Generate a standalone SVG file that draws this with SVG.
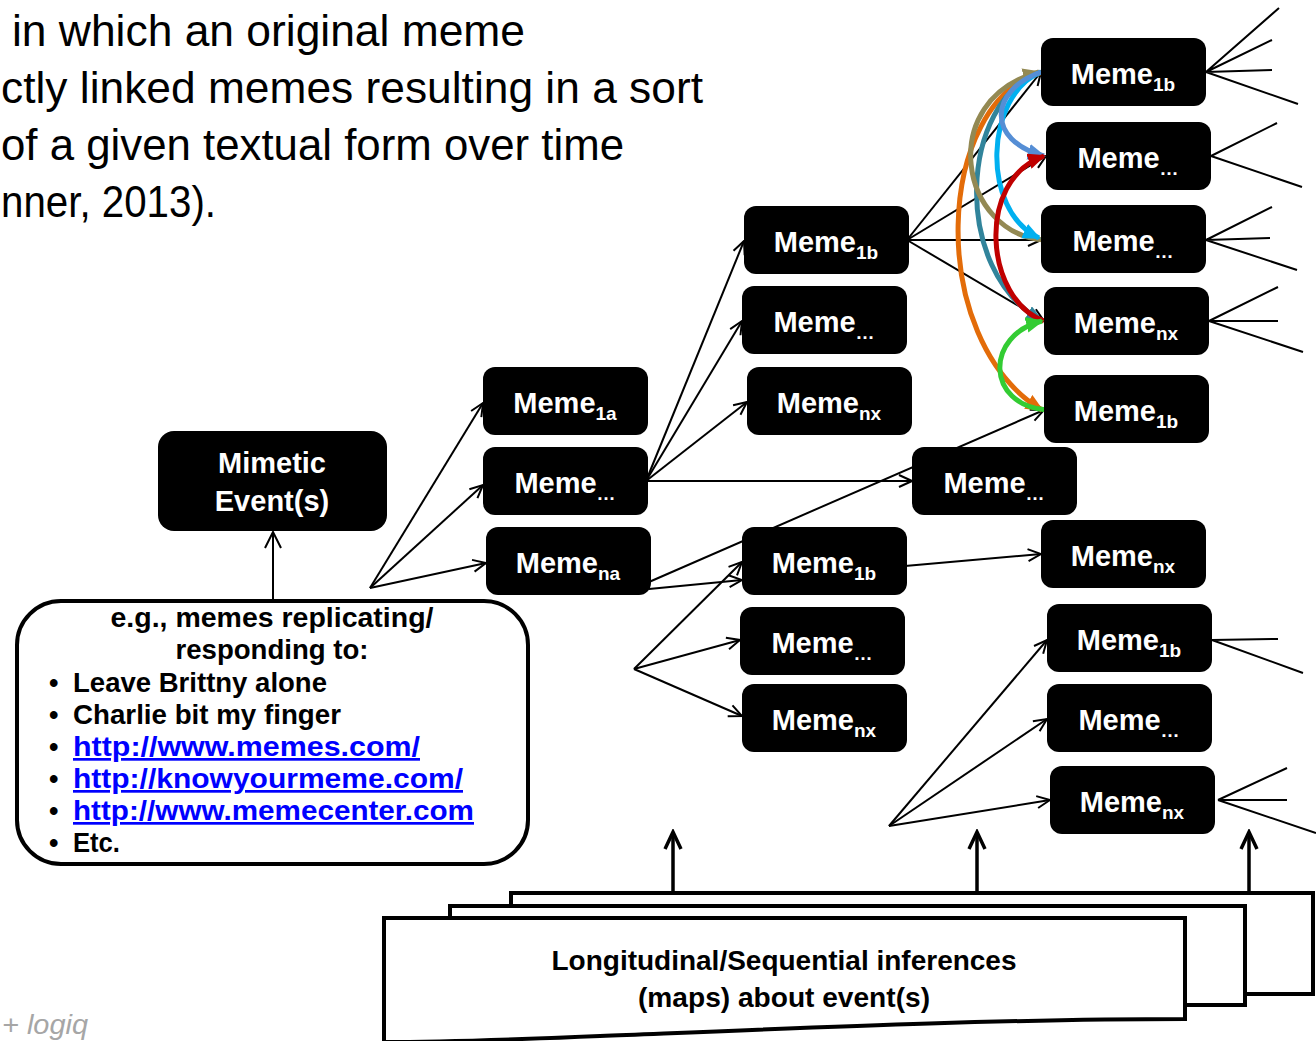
<svg xmlns="http://www.w3.org/2000/svg" width="1316" height="1041" viewBox="0 0 1316 1041">
<defs>
<style>
.ln{stroke:#000;stroke-width:2;fill:none}
.ar{marker-end:url(#ah)}
.nd{fill:#000}
.lb{font-family:"Liberation Sans",Arial,sans-serif;font-weight:bold;font-size:29px;fill:#fff;text-anchor:middle}
.sb{font-size:19px}
.para{font-family:"Liberation Sans",Arial,sans-serif;font-size:44px;fill:#000}
.bx{font-family:"Liberation Sans",Arial,sans-serif;font-weight:bold;font-size:27px;fill:#000}
.lk{fill:#0000ff;text-decoration:underline}
.cv{fill:none;stroke-width:5}
</style>
<marker id="ah" viewBox="0 0 16 16" refX="15" refY="8" markerWidth="16" markerHeight="16" markerUnits="userSpaceOnUse" orient="auto"><path d="M2,2 L15,8 L2,14" fill="none" stroke="#000" stroke-width="2"/></marker>
<marker id="ahm" viewBox="0 0 20 20" refX="18" refY="10" markerWidth="20" markerHeight="20" markerUnits="userSpaceOnUse" orient="auto"><path d="M2,2 L18,10 L2,18" fill="none" stroke="#000" stroke-width="2"/></marker>
<marker id="ahb" viewBox="0 0 22 22" refX="19" refY="11" markerWidth="22" markerHeight="22" markerUnits="userSpaceOnUse" orient="auto"><path d="M2,3 L19,11 L2,19" fill="none" stroke="#000" stroke-width="3.5"/></marker>
<marker id="m-ol" viewBox="0 0 18 16" refX="16" refY="8" markerWidth="18" markerHeight="16" markerUnits="userSpaceOnUse" orient="auto"><path d="M0,0 L18,8 L0,16 z" fill="#938953"/></marker>
<marker id="m-or" viewBox="0 0 18 16" refX="16" refY="8" markerWidth="18" markerHeight="16" markerUnits="userSpaceOnUse" orient="auto"><path d="M0,0 L18,8 L0,16 z" fill="#e36c09"/></marker>
<marker id="m-te" viewBox="0 0 18 16" refX="16" refY="8" markerWidth="18" markerHeight="16" markerUnits="userSpaceOnUse" orient="auto"><path d="M0,0 L18,8 L0,16 z" fill="#31849b"/></marker>
<marker id="m-lb" viewBox="0 0 18 16" refX="16" refY="8" markerWidth="18" markerHeight="16" markerUnits="userSpaceOnUse" orient="auto"><path d="M0,0 L18,8 L0,16 z" fill="#00b0f0"/></marker>
<marker id="m-cb" viewBox="0 0 18 16" refX="16" refY="8" markerWidth="18" markerHeight="16" markerUnits="userSpaceOnUse" orient="auto"><path d="M0,0 L18,8 L0,16 z" fill="#558ed5"/></marker>
<marker id="m-rd" viewBox="0 0 18 16" refX="16" refY="8" markerWidth="18" markerHeight="16" markerUnits="userSpaceOnUse" orient="auto"><path d="M0,0 L18,8 L0,16 z" fill="#c00000"/></marker>
<marker id="m-gr" viewBox="0 0 18 16" refX="16" refY="8" markerWidth="18" markerHeight="16" markerUnits="userSpaceOnUse" orient="auto"><path d="M0,0 L18,8 L0,16 z" fill="#33cc33"/></marker>
</defs>
<rect width="1316" height="1041" fill="#fff"/>

<g id="paragraph">
<text class="para" x="12" y="46" textLength="513" lengthAdjust="spacingAndGlyphs">in which an original meme</text>
<text class="para" x="1" y="103" textLength="702" lengthAdjust="spacingAndGlyphs">ctly linked memes resulting in a sort</text>
<text class="para" x="1" y="160" textLength="623" lengthAdjust="spacingAndGlyphs">of a given textual form over time</text>
<text class="para" x="1" y="217" textLength="215" lengthAdjust="spacingAndGlyphs">nner, 2013).</text>
</g>
<text x="2" y="1034" font-family="Liberation Sans, Arial, sans-serif" font-style="italic" font-size="27" fill="#a6a6a6" textLength="86" lengthAdjust="spacingAndGlyphs">+ logiq</text>

<g id="connectors">
<line class="ln ar" x1="370" y1="588" x2="483" y2="403"/>
<line class="ln ar" x1="370" y1="588" x2="483" y2="485"/>
<line class="ln ar" x1="370" y1="588" x2="486" y2="563"/>
<line class="ln ar" x1="646" y1="481" x2="744" y2="241"/>
<line class="ln ar" x1="646" y1="481" x2="742" y2="321"/>
<line class="ln ar" x1="646" y1="481" x2="747" y2="402"/>
<line class="ln ar" x1="646" y1="481" x2="912" y2="481"/>
<line class="ln ar" x1="649" y1="582" x2="1044" y2="410"/>
<line class="ln ar" x1="649" y1="589" x2="742" y2="580"/>
<line class="ln ar" x1="634" y1="669" x2="742" y2="562"/>
<line class="ln ar" x1="634" y1="669" x2="740" y2="640"/>
<line class="ln ar" x1="634" y1="669" x2="742" y2="716"/>
<line class="ln ar" x1="905" y1="566" x2="1041" y2="554"/>
<line class="ln ar" x1="889" y1="826" x2="1047" y2="640"/>
<line class="ln ar" x1="889" y1="826" x2="1047" y2="719"/>
<line class="ln ar" x1="889" y1="826" x2="1050" y2="800"/>
<line class="ln ar" x1="907" y1="240" x2="1041" y2="72"/>
<line class="ln ar" x1="907" y1="240" x2="1046" y2="156"/>
<line class="ln ar" x1="907" y1="240" x2="1041" y2="240"/>
<line class="ln ar" x1="907" y1="240" x2="1044" y2="321"/>
<line class="ln" x1="273" y1="600" x2="273" y2="532" marker-end="url(#ahm)"/>
<path class="ln" d="M1206,72 L1279,8 M1206,72 L1272,40 M1206,72 L1272,70 M1206,72 L1298,104"/>
<path class="ln" d="M1211,156 L1277,123 M1211,156 L1302,187"/>
<path class="ln" d="M1206,240 L1272,207 M1206,240 L1270,238 M1206,240 L1297,270"/>
<path class="ln" d="M1209,321 L1278,287 M1209,321 L1278,321 M1209,321 L1303,352"/>
<path class="ln" d="M1212,640 L1278,639 M1212,640 L1303,673"/>
<path class="ln" d="M1218,800 L1287,768 M1218,800 L1287,800 M1218,800 L1316,833"/>
<line x1="673" y1="893" x2="673" y2="832" stroke="#000" stroke-width="3.5" marker-end="url(#ahb)"/>
<line x1="977" y1="893" x2="977" y2="832" stroke="#000" stroke-width="3.5" marker-end="url(#ahb)"/>
<line x1="1249" y1="893" x2="1249" y2="832" stroke="#000" stroke-width="3.5" marker-end="url(#ahb)"/>
<path class="cv" stroke="#e36c09" d="M1043,72 C935,100 925,340 1042,410" marker-end="url(#m-or)"/>
<path class="cv" stroke="#31849b" d="M1041,72 C960,100 950,270 1042,321" marker-end="url(#m-te)"/>
<path class="cv" stroke="#938953" stroke-width="6" d="M1045,240 C960,235 935,100 1039,72" marker-end="url(#m-ol)"/>
<path class="cv" stroke="#00b0f0" d="M1041,72 C985,95 980,210 1039,238" marker-end="url(#m-lb)"/>
<path class="cv" stroke="#558ed5" d="M1041,72 C990,90 985,140 1044,156" marker-end="url(#m-cb)"/>
<path class="cv" stroke="#c00000" d="M1044,321 C985,300 975,180 1044,156" marker-end="url(#m-rd)"/>
<path class="cv" stroke="#33cc33" d="M1047,410 C985,405 985,335 1042,321" marker-end="url(#m-gr)"/>
</g>

<g id="mimetic-event"><rect class="nd" x="158" y="431" width="229" height="100" rx="16"/><text class="lb" x="272" y="473">Mimetic</text><text class="lb" x="272" y="511">Event(s)</text></g>

<g id="examples-box">
<rect x="17" y="601" width="511" height="263" rx="44" fill="#fff" stroke="#000" stroke-width="4"/>
<text class="bx" x="272" y="627" text-anchor="middle" textLength="323" lengthAdjust="spacingAndGlyphs">e.g., memes replicating/</text>
<text class="bx" x="272" y="659" text-anchor="middle" textLength="193" lengthAdjust="spacingAndGlyphs">responding to:</text>
<text class="bx" x="49" y="692">•</text><text class="bx" x="73" y="692" textLength="254" lengthAdjust="spacingAndGlyphs">Leave Brittny alone</text>
<text class="bx" x="49" y="724">•</text><text class="bx" x="73" y="724" textLength="268" lengthAdjust="spacingAndGlyphs">Charlie bit my finger</text>
<text class="bx" x="49" y="756">•</text><text class="bx lk" x="73" y="756" textLength="347" lengthAdjust="spacingAndGlyphs">http://www.memes.com/</text>
<text class="bx" x="49" y="788">•</text><text class="bx lk" x="73" y="788" textLength="390" lengthAdjust="spacingAndGlyphs">http://knowyourmeme.com/</text>
<text class="bx" x="49" y="820">•</text><text class="bx lk" x="73" y="820" textLength="401" lengthAdjust="spacingAndGlyphs">http://www.memecenter.com</text>
<text class="bx" x="49" y="852">•</text><text class="bx" x="73" y="852" textLength="47" lengthAdjust="spacingAndGlyphs">Etc.</text>
</g>

<g id="inferences-docs">
<rect x="511" y="893" width="802" height="101" fill="#fff" stroke="#000" stroke-width="4"/>
<rect x="450" y="906" width="795" height="99" fill="#fff" stroke="#000" stroke-width="4"/>
<path d="M384,918 H1185 V1019 C1000,1019 800,1028 600,1036 C480,1041 420,1042 384,1042 Z" fill="#fff" stroke="#000" stroke-width="4"/>
<text class="bx" x="784" y="970" text-anchor="middle" textLength="465" lengthAdjust="spacingAndGlyphs">Longitudinal/Sequential inferences</text>
<text class="bx" x="784" y="1007" text-anchor="middle" textLength="292" lengthAdjust="spacingAndGlyphs">(maps) about event(s)</text>
</g>

<g id="a1"><rect class="nd" x="483" y="367" width="165" height="68" rx="12"/><text class="lb" x="565" y="413">Meme<tspan class="sb" dy="7">1a</tspan></text></g>
<g id="a2"><rect class="nd" x="483" y="447" width="165" height="68" rx="12"/><text class="lb" x="565" y="493">Meme<tspan class="sb" dy="7">…</tspan></text></g>
<g id="a3"><rect class="nd" x="486" y="527" width="165" height="68" rx="12"/><text class="lb" x="568" y="573">Meme<tspan class="sb" dy="7">na</tspan></text></g>

<g id="b1"><rect class="nd" x="744" y="206" width="165" height="68" rx="12"/><text class="lb" x="826" y="252">Meme<tspan class="sb" dy="7">1b</tspan></text></g>
<g id="b2"><rect class="nd" x="742" y="286" width="165" height="68" rx="12"/><text class="lb" x="824" y="332">Meme<tspan class="sb" dy="7">…</tspan></text></g>
<g id="b3"><rect class="nd" x="747" y="367" width="165" height="68" rx="12"/><text class="lb" x="829" y="413">Meme<tspan class="sb" dy="7">nx</tspan></text></g>
<g id="b4"><rect class="nd" x="742" y="527" width="165" height="68" rx="12"/><text class="lb" x="824" y="573">Meme<tspan class="sb" dy="7">1b</tspan></text></g>
<g id="b5"><rect class="nd" x="740" y="607" width="165" height="68" rx="12"/><text class="lb" x="822" y="653">Meme<tspan class="sb" dy="7">…</tspan></text></g>
<g id="b6"><rect class="nd" x="742" y="684" width="165" height="68" rx="12"/><text class="lb" x="824" y="730">Meme<tspan class="sb" dy="7">nx</tspan></text></g>

<g id="c1"><rect class="nd" x="912" y="447" width="165" height="68" rx="12"/><text class="lb" x="994" y="493">Meme<tspan class="sb" dy="7">…</tspan></text></g>

<g id="d1"><rect class="nd" x="1041" y="38" width="165" height="68" rx="12"/><text class="lb" x="1123" y="84">Meme<tspan class="sb" dy="7">1b</tspan></text></g>
<g id="d2"><rect class="nd" x="1046" y="122" width="165" height="68" rx="12"/><text class="lb" x="1128" y="168">Meme<tspan class="sb" dy="7">…</tspan></text></g>
<g id="d3"><rect class="nd" x="1041" y="205" width="165" height="68" rx="12"/><text class="lb" x="1123" y="251">Meme<tspan class="sb" dy="7">…</tspan></text></g>
<g id="d4"><rect class="nd" x="1044" y="287" width="165" height="68" rx="12"/><text class="lb" x="1126" y="333">Meme<tspan class="sb" dy="7">nx</tspan></text></g>
<g id="d5"><rect class="nd" x="1044" y="375" width="165" height="68" rx="12"/><text class="lb" x="1126" y="421">Meme<tspan class="sb" dy="7">1b</tspan></text></g>
<g id="d6"><rect class="nd" x="1041" y="520" width="165" height="68" rx="12"/><text class="lb" x="1123" y="566">Meme<tspan class="sb" dy="7">nx</tspan></text></g>
<g id="d7"><rect class="nd" x="1047" y="604" width="165" height="68" rx="12"/><text class="lb" x="1129" y="650">Meme<tspan class="sb" dy="7">1b</tspan></text></g>
<g id="d8"><rect class="nd" x="1047" y="684" width="165" height="68" rx="12"/><text class="lb" x="1129" y="730">Meme<tspan class="sb" dy="7">…</tspan></text></g>
<g id="d9"><rect class="nd" x="1050" y="766" width="165" height="68" rx="12"/><text class="lb" x="1132" y="812">Meme<tspan class="sb" dy="7">nx</tspan></text></g>
</svg>
